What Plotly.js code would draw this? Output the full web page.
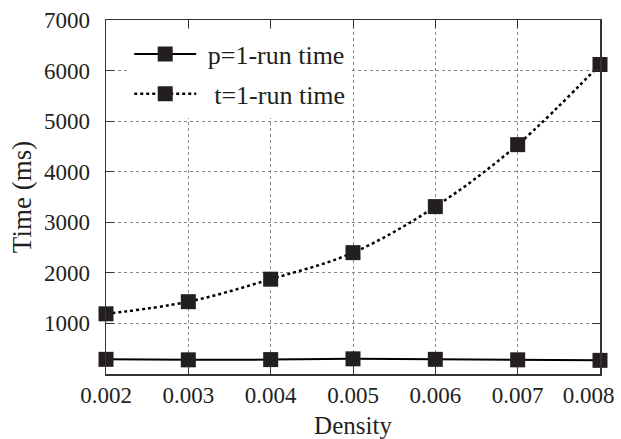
<!DOCTYPE html>
<html><head><meta charset="utf-8">
<script src="https://cdn.plot.ly/plotly-3.0.1.min.js"></script>
<style>body{margin:0;padding:0;background:#fff}#chart{width:621px;height:439px}</style>
</head><body><div id="chart"></div>
<script>
const density = [0.002, 0.003, 0.004, 0.005, 0.006, 0.007, 0.008];
const pRunTime = [290, 280, 285, 300, 290, 280, 270];
const tRunTime = [1190, 1430, 1875, 2400, 3310, 4535, 6120];
const yTicks = [1000, 2000, 3000, 4000, 5000, 6000, 7000];
const xTicks = [0.002, 0.003, 0.004, 0.005, 0.006, 0.007, 0.008];
const xTickLabels = ['0.002', '0.003', '0.004', '0.005', '0.006', '0.007', '0.008'];

// last label is nudged left (as in the reference) so it stays inside the page
const shownXLabels = xTickLabels.map((t, i) =>
  i === xTickLabels.length - 1 ? t + '\u00a0\u00a0\u00a0\u00a0' : t);

const font = '"Liberation Serif", "Times New Roman", serif';
const tickFont = {family: font, size: 23, color: '#231f20'};
const traces = [
  {x: density, y: pRunTime, name: ' p=1-run time', mode: 'lines+markers', legendgroup: 'a',
   line: {color: '#000', width: 2, dash: 'solid'},
   marker: {symbol: 'square', size: 15, color: '#231f20'}, cliponaxis: false},
  {x: density, y: tRunTime, name: '  t=1-run time', mode: 'lines+markers', legendgroup: 'b',
   line: {color: '#000', width: 2.5, dash: 'dot', shape: 'spline'},
   marker: {symbol: 'square', size: 15, color: '#231f20'}, cliponaxis: false}
];
const layout = {
  width: 621, height: 439,
  margin: {l: 106, r: 21, t: 20, b: 65},
  paper_bgcolor: '#fff', plot_bgcolor: '#fff',
  font: {family: font, size: 23, color: '#231f20'},
  showlegend: true,
  legend: {x: 0.047, y: 0.97, xanchor: 'left', yanchor: 'top', bgcolor: '#fff',
    borderwidth: 0, font: {family: font, size: 26, color: '#231f20'},
    itemwidth: 62, traceorder: 'grouped', tracegroupgap: 3},
  xaxis: {range: [0.002, 0.008], tickvals: xTicks, ticktext: shownXLabels,
    tickfont: tickFont, ticklabeloverflow: 'allow',
    showline: true, mirror: 'ticks', linecolor: '#333', linewidth: 1.5,
    ticks: 'inside', ticklen: 8, tickcolor: '#333',
    showgrid: true, gridcolor: '#888', griddash: 'dot', gridwidth: 1,
    zeroline: false, ticklabelstandoff: 0,
    title: {text: 'Density', font: {family: font, size: 25}, standoff: 14}},
  yaxis: {range: [0, 7000], tickvals: yTicks, tickfont: tickFont,
    showline: true, mirror: 'ticks', linecolor: '#333', linewidth: 1.5,
    ticks: 'inside', ticklen: 8, tickcolor: '#333',
    showgrid: true, gridcolor: '#888', griddash: 'dot', gridwidth: 1,
    zeroline: false, ticklabelstandoff: 10,
    title: {text: 'Time (ms)', font: {family: font, size: 27}, standoff: 4}}
};
Plotly.newPlot('chart', traces, layout, {displayModeBar: false, staticPlot: true});
</script></body></html>
